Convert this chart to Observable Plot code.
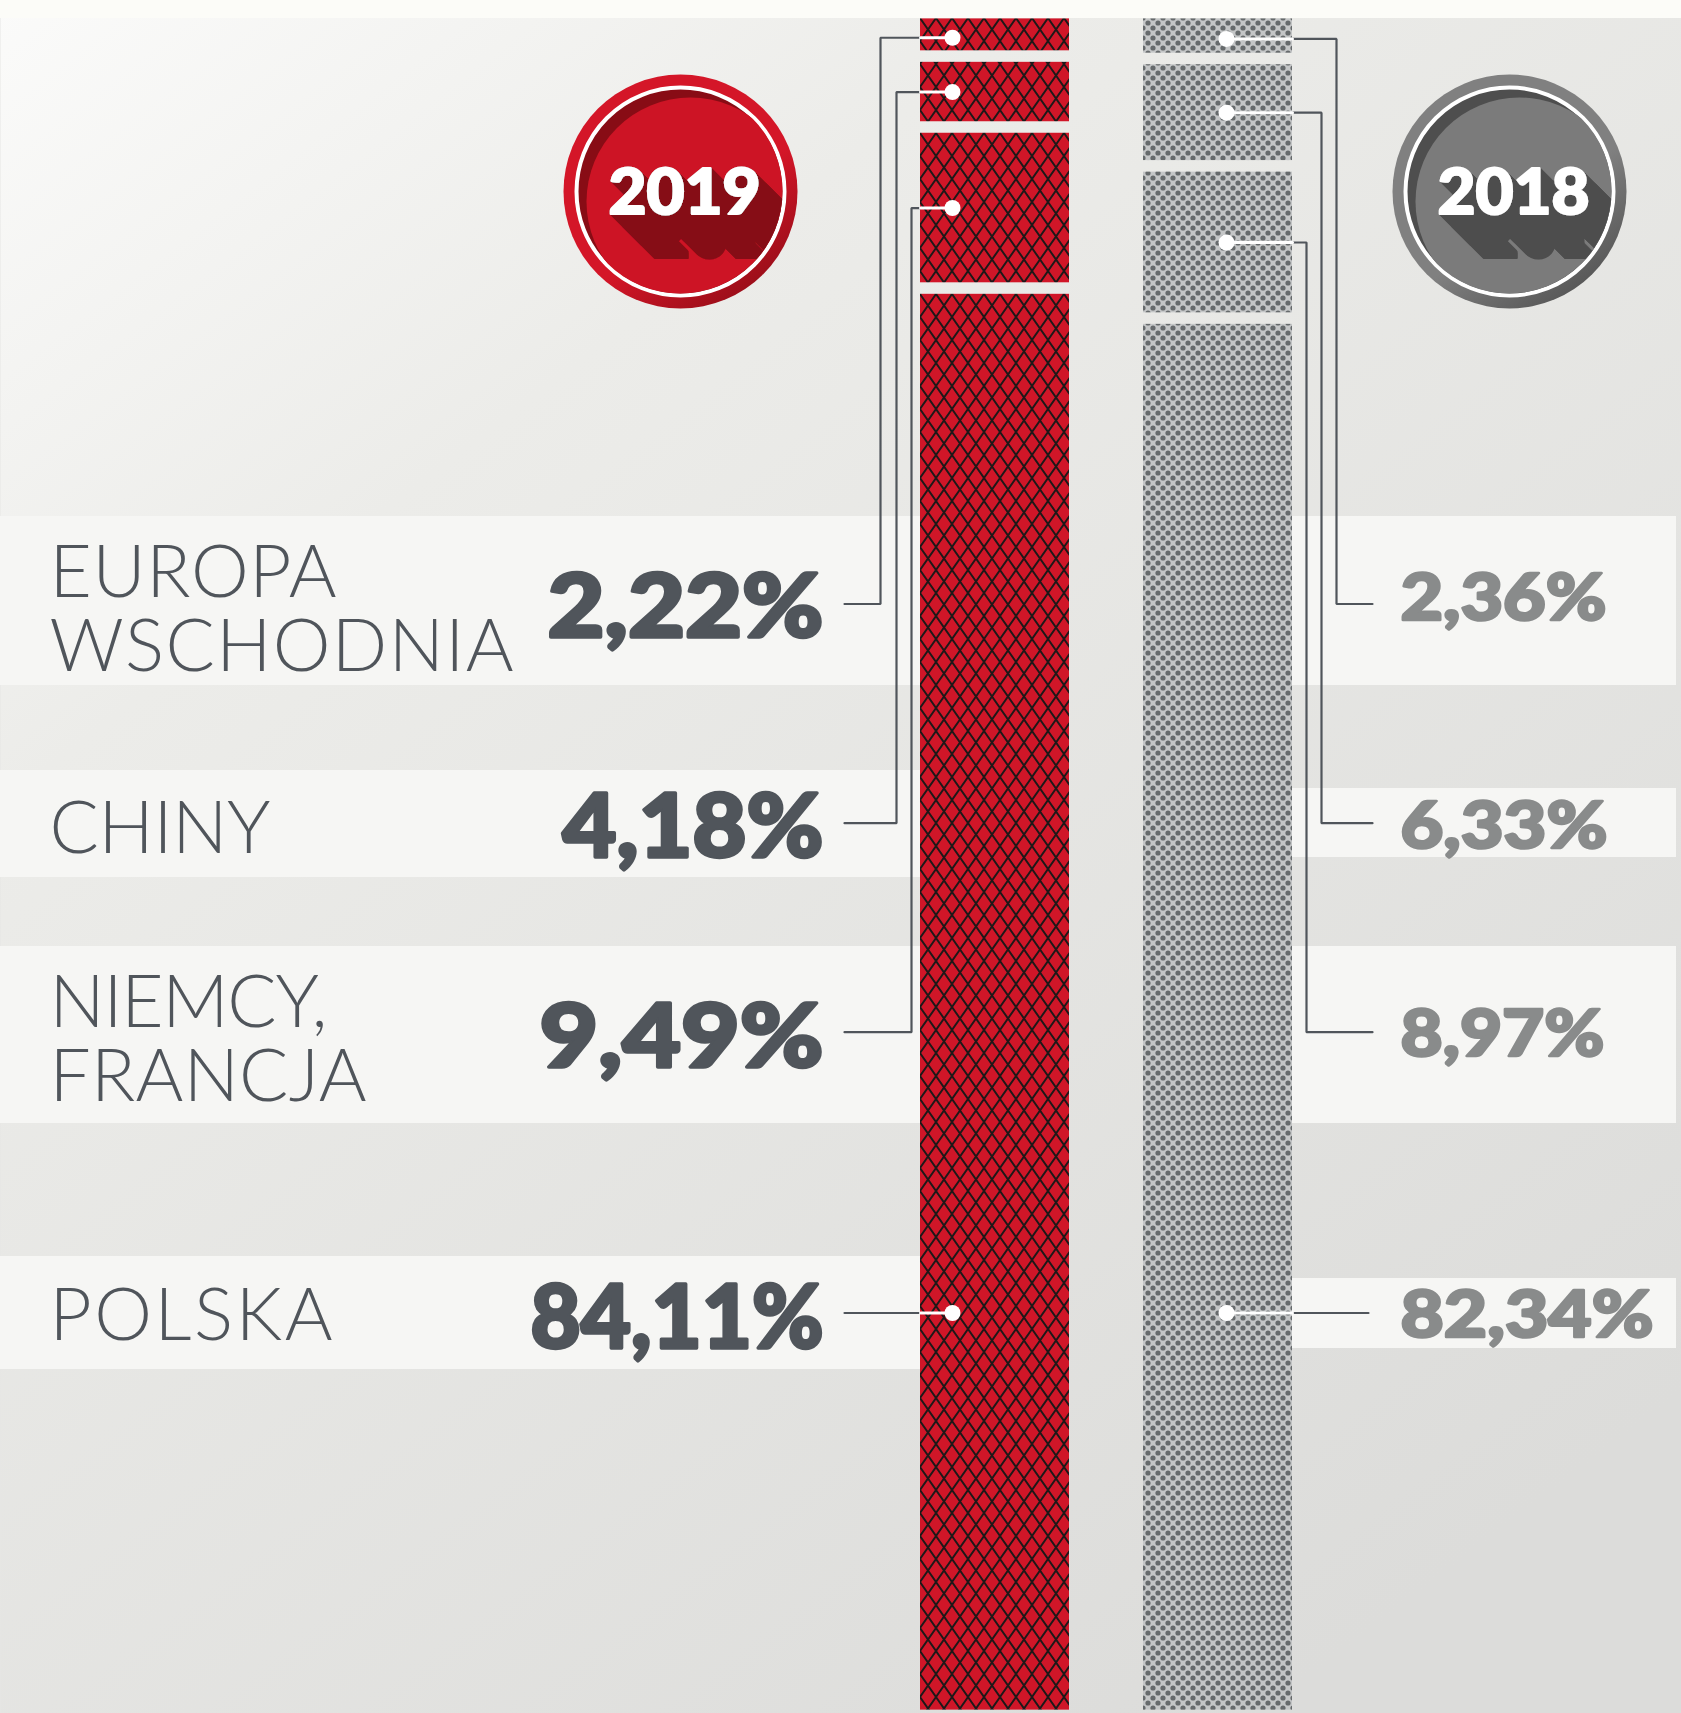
<!DOCTYPE html>
<html>
<head>
<meta charset="utf-8">
<script src="https://cdn.jsdelivr.net/npm/d3@7"></script>
<script src="https://cdn.jsdelivr.net/npm/@observablehq/plot@0.6"></script>
<style>
  html, body { margin: 0; padding: 0; background: #e6e6e4; }
  #chart svg { display: block; }
</style>
</head>
<body>
<div id="chart"></div>
<script>
// ---------------- DATA ----------------
const regions = ["EUROPA WSCHODNIA", "CHINY", "NIEMCY, FRANCJA", "POLSKA"];
const regionLabels = ["EUROPA\nWSCHODNIA", "CHINY", "NIEMCY,\nFRANCJA", "POLSKA"];
const years = ["2019", "2018"];
const share2019 = [2.22, 4.18, 9.49, 84.11];
const share2018 = [2.36, 6.33, 8.97, 82.34];

// ---------------- LAYOUT (pixels) ----------------
const W = 1681, H = 1713;
const Y0 = 18.4, K = 16.97;               // y scale: 0% at Y0, K px per percent
const pct = px => (px - Y0) / K;          // layout pixel -> y domain
const fmt = v => v.toFixed(2).replace(".", ",") + "%";

const rowY = [603.5, 822.7, 1031.7, 1312.5];          // leader rows
const nameBase = [670, 852, 1100.7, 1339];
const leftValBase = [636.7, 856, 1066.7, 1347];
const rightValBase = [619, 847, 1055, 1336.7];
const leftBands = [[516, 685], [770, 877], [946, 1123], [1256, 1369]];
const rightBands = [[516, 685], [788, 857], [946, 1123], [1278, 1348]];
// text widths measured on the reference
const nameLineWidths = [[287, 464], [221], [278, 317], [283]];
const leftValWidths = [276, 261, 284, 293];
const rightValWidths = [206, 207, 204, 253];
const badgeTextWidth = 152;

const bars = {
  "2019": {x1: 920, x2: 1069, dotX: 952, vx: [880, 896, 911, null], endX: 844},
  "2018": {x1: 1143, x2: 1292, dotX: 1226, vx: [1336, 1321, 1306, null], endX: 1372}
};

function buildSegments(year, values) {
  let c = 0;
  return values.map((v, i) => {
    const s = c; c += v;
    return {year, region: regions[i], i, value: v, y1: s, y2: c, x1: bars[year].x1, x2: bars[year].x2};
  });
}
const segments = [...buildSegments("2019", share2019), ...buildSegments("2018", share2018)];

// leader geometry derived from segments
const dotsData = segments.map(s => {
  const ry = pct(rowY[s.i]);
  const inRow = ry > s.y1 && ry < s.y2;
  return {...s, dx: bars[s.year].dotX, dy: inRow ? ry : (s.y1 + s.y2) / 2};
});
const whiteLines = dotsData.flatMap(d => {
  const edge = d.year === "2019" ? bars[d.year].x1 : bars[d.year].x2;
  return [{k: d.year + d.i, x: d.dx, y: d.dy}, {k: d.year + d.i, x: edge, y: d.dy}];
});
const darkLines = dotsData.flatMap(d => {
  const b = bars[d.year];
  const edge = d.year === "2019" ? b.x1 : b.x2;
  const ry = pct(rowY[d.i]);
  const k = d.year + d.i;
  if (b.vx[d.i] == null) return [{k, x: edge, y: ry}, {k, x: d.year === "2019" ? b.endX : b.endX - 4, y: ry}];
  return [{k, x: edge, y: d.dy}, {k, x: b.vx[d.i], y: d.dy}, {k, x: b.vx[d.i], y: ry}, {k, x: b.endX, y: ry}];
});

const leftLabels = regionLabels.map((t, i) => ({t, i, y: pct(nameBase[i])}));
const leftVals = share2019.map((v, i) => ({t: fmt(v), i, y: pct(leftValBase[i])}));
const rightVals = share2018.map((v, i) => ({t: fmt(v), i, y: pct(rightValBase[i])}));
const bandsData = [
  ...leftBands.map(([a, b]) => ({x1: 0, x2: bars["2019"].x1, y1: pct(a), y2: pct(b)})),
  ...rightBands.map(([a, b]) => ({x1: bars["2018"].x2, x2: 1676, y1: pct(a), y2: pct(b)}))
];

const badges = [
  {year: "2019", cx: 680, cy: 191, ring: "url(#ring2019)", base: "#880c15", main: "#cd1425", shadow: "#860b14"},
  {year: "2018", cx: 1509, cy: 191, ring: "url(#ring2018)", base: "#4e4e4e", main: "#7b7b7b", shadow: "#4d4d4d"}
];

const heavy = "Lato, 'Open Sans', 'DejaVu Sans', sans-serif";
const light = "Lato, 'Open Sans', 'DejaVu Sans', sans-serif";

const badgeMarks = badges.flatMap(b => [
  Plot.dot([b], {x: "cx", y: d => pct(d.cy), r: 117, fill: "ring", stroke: "none"}),
  Plot.dot([b], {x: "cx", y: d => pct(d.cy), r: 104, fill: "base", stroke: "white", strokeWidth: 4}),
  Plot.dot([b], {x: d => d.cx + 10, y: d => pct(d.cy + 10), r: 104, fill: "main", stroke: "none", ariaLabel: () => "clip" + b.year}),
  Plot.text([b], {x: d => d.cx + 4, y: d => pct(d.cy + 22), text: "year", fill: "white", stroke: "white", strokeWidth: 2,
    strokeLinejoin: "round", fontFamily: heavy, fontWeight: 900, fontSize: 62, textAnchor: "middle", lineAnchor: "bottom",
    ariaLabel: () => "clip" + b.year})
]);

const chart = Plot.plot({
  width: W, height: H,
  margin: 0,
  style: {background: "transparent"},
  x: {domain: [0, W], range: [0, W], axis: null},
  y: {domain: [0, 100], range: [Y0, Y0 + 100 * K], axis: null},
  color: {type: "identity"},
  marks: [
    Plot.frame({fill: "url(#bg)", stroke: "none"}),
    Plot.rect(bandsData, {x1: "x1", x2: "x2", y1: "y1", y2: "y2", fill: "#f6f6f4"}),
    // bars
    Plot.rect(segments, {filter: d => d.year === "2019" && d.i === 0, x1: "x1", x2: "x2", y1: "y1", y2: "y2", fill: "url(#hatch)", insetBottom: 5.75}),
    Plot.rect(segments, {filter: d => d.year === "2019" && d.i > 0, x1: "x1", x2: "x2", y1: "y1", y2: "y2", fill: "url(#hatch)", insetTop: 5.75, insetBottom: 5.75}),
    Plot.rect(segments, {filter: d => d.year === "2018" && d.i === 0, x1: "x1", x2: "x2", y1: "y1", y2: "y2", fill: "url(#dots)", insetBottom: 5.75}),
    Plot.rect(segments, {filter: d => d.year === "2018" && d.i > 0, x1: "x1", x2: "x2", y1: "y1", y2: "y2", fill: "url(#dots)", insetTop: 5.75, insetBottom: 5.75}),
    // top strip
    Plot.rect([0], {x1: 0, x2: W, y1: pct(-5), y2: pct(18), fill: "#fcfcf8"}),
    // leaders
    Plot.line(darkLines, {x: "x", y: "y", z: "k", stroke: "#50555b", strokeWidth: 2.2, strokeLinejoin: "miter"}),
    Plot.line(whiteLines, {x: "x", y: "y", z: "k", stroke: "white", strokeWidth: 3}),
    Plot.dot(dotsData, {x: "dx", y: "dy", r: 8, fill: "white", stroke: "none"}),
    // labels
    Plot.text(leftLabels, {x: () => 49, y: "y", text: "t", textAnchor: "start", lineAnchor: "bottom", lineHeight: 74 / 73,
      fontFamily: light, fontWeight: 300, fontSize: 73, fill: "#50555b", ariaLabel: d => "name-" + d.i}),
    Plot.text(leftVals, {x: () => 823, y: "y", text: "t", textAnchor: "end", lineAnchor: "bottom",
      fontFamily: heavy, fontWeight: 900, fontSize: 88, fill: "#50555b", stroke: "#50555b", strokeWidth: 3.4,
      strokeLinejoin: "round", ariaLabel: d => "lv-" + d.i}),
    Plot.text(rightVals, {x: () => 1400, y: "y", text: "t", textAnchor: "start", lineAnchor: "bottom",
      fontFamily: heavy, fontWeight: 900, fontSize: 64, fill: "#898b8b", stroke: "#898b8b", strokeWidth: 2.6,
      strokeLinejoin: "round", ariaLabel: d => "rv-" + d.i}),
    ...badgeMarks
  ]
});

// ---------- defs: background gradient, patterns, badge gradients, filters, clips ----------
const svg = d3.select(chart);
const defs = svg.insert("defs", ":first-child");
const bg = defs.append("linearGradient").attr("id", "bg").attr("x1", 0).attr("y1", 0).attr("x2", 0.75).attr("y2", 1);
bg.append("stop").attr("offset", 0).attr("stop-color", "#fbfbfa");
bg.append("stop").attr("offset", 0.3).attr("stop-color", "#ecece9");
bg.append("stop").attr("offset", 1).attr("stop-color", "#dcdcda");

const hatch = defs.append("pattern").attr("id", "hatch").attr("patternUnits", "userSpaceOnUse")
  .attr("width", 16).attr("height", 23).attr("x", 920).attr("y", 18);
hatch.append("rect").attr("width", 16).attr("height", 23).attr("fill", "#d01628");
hatch.append("path").attr("d", "M-8,-11.5L24,34.5M24,-11.5L-8,34.5").attr("stroke", "#1d1818").attr("stroke-width", 1.9).attr("fill", "none");

const dots = defs.append("pattern").attr("id", "dots").attr("patternUnits", "userSpaceOnUse")
  .attr("width", 10).attr("height", 10).attr("x", 1143).attr("y", 18);
dots.append("rect").attr("width", 10).attr("height", 10).attr("fill", "#c4c6c7");
for (const [cx, cy] of [[0, 0], [10, 0], [0, 10], [10, 10], [5, 5]])
  dots.append("circle").attr("cx", cx).attr("cy", cy).attr("r", 2.6).attr("fill", "#666a6c");

for (const [id, a, b] of [["ring2019", "#d41628", "#8e0c16"], ["ring2018", "#808080", "#4e4e4e"]]) {
  const g = defs.append("linearGradient").attr("id", id).attr("x1", 0.2).attr("y1", 0.1).attr("x2", 0.85).attr("y2", 1);
  g.append("stop").attr("offset", 0).attr("stop-color", a);
  g.append("stop").attr("offset", 0.55).attr("stop-color", a);
  g.append("stop").attr("offset", 1).attr("stop-color", b);
}

function longShadow(id, color) {
  const f = defs.append("filter").attr("id", id)
    .attr("x", "-5%").attr("y", "-5%").attr("width", "160%").attr("height", "260%");
  let prev = "SourceAlpha", n = 0;
  for (const s of [1, 2, 4, 8, 16, 13]) {
    f.append("feOffset").attr("in", prev).attr("dx", s).attr("dy", s).attr("result", "o" + n);
    const m = f.append("feMerge").attr("result", "m" + n);
    m.append("feMergeNode").attr("in", prev);
    m.append("feMergeNode").attr("in", "o" + n);
    prev = "m" + n; n++;
  }
  f.append("feFlood").attr("flood-color", color).attr("result", "fl");
  f.append("feComposite").attr("in", "fl").attr("in2", prev).attr("operator", "in").attr("result", "sh");
  const mm = f.append("feMerge");
  mm.append("feMergeNode").attr("in", "sh");
  mm.append("feMergeNode").attr("in", "SourceGraphic");
}

function wrapClip(selector, clipId) {
  const groups = new Set(svg.selectAll(selector).nodes().map(n => n.parentNode));
  for (const g of groups) {
    const w = document.createElementNS("http://www.w3.org/2000/svg", "g");
    w.setAttribute("clip-path", `url(#${clipId})`);
    g.parentNode.insertBefore(w, g);
    w.appendChild(g);
  }
}

for (const b of badges) {
  defs.append("clipPath").attr("id", "cp" + b.year)
    .append("circle").attr("cx", b.cx).attr("cy", b.cy).attr("r", 102.5);
  longShadow("ls" + b.year, b.shadow);
  svg.selectAll(`text[aria-label="clip${b.year}"]`)
    .attr("filter", `url(#ls${b.year})`)
    .attr("textLength", badgeTextWidth).attr("lengthAdjust", "spacingAndGlyphs");
  wrapClip(`[aria-label="clip${b.year}"]`, "cp" + b.year);
}

// widths of texts as in the reference
leftLabels.forEach(d => {
  const t = svg.select(`text[aria-label="name-${d.i}"]`);
  const spans = t.selectAll("tspan").nodes();
  const widths = nameLineWidths[d.i];
  if (spans.length) spans.forEach((s, j) => { s.setAttribute("textLength", widths[j]); s.setAttribute("lengthAdjust", "spacing"); });
  else t.attr("textLength", widths[0]).attr("lengthAdjust", "spacing");
});
leftVals.forEach(d => svg.select(`text[aria-label="lv-${d.i}"]`)
  .attr("textLength", leftValWidths[d.i]).attr("lengthAdjust", "spacingAndGlyphs"));
rightVals.forEach(d => svg.select(`text[aria-label="rv-${d.i}"]`)
  .attr("textLength", rightValWidths[d.i]).attr("lengthAdjust", "spacingAndGlyphs"));

document.getElementById("chart").appendChild(chart);
</script>
</body>
</html>
